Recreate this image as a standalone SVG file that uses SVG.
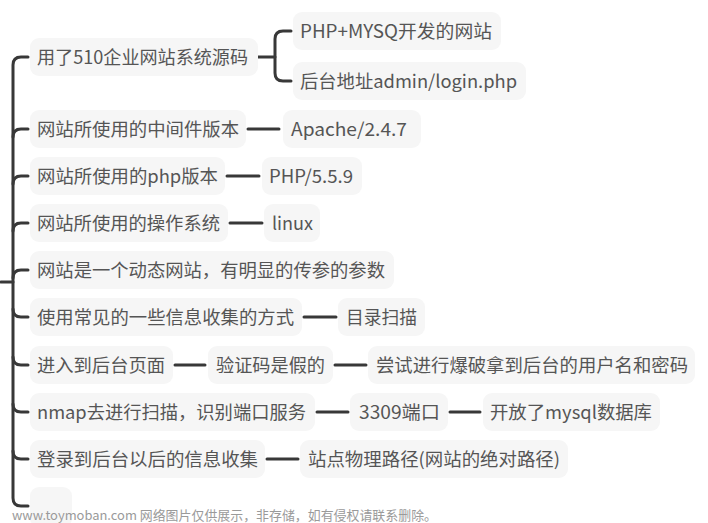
<svg xmlns="http://www.w3.org/2000/svg" width="708" height="523" viewBox="0 0 708 523">
<style>
.box{fill:#f6f6f6;}
.t{font-family:"Noto Sans CJK SC","Noto Sans",sans-serif;font-size:18px;fill:#555555;}
.ln{fill:none;stroke:#383838;stroke-width:3;stroke-linecap:round;stroke-linejoin:round;}
.wm{font-family:"Noto Sans CJK SC","Noto Sans",sans-serif;font-size:13px;fill:#9a9a9a;}
</style>
<rect width="708" height="523" fill="#ffffff"/>
<g id="connectors">
<path class="ln" d="M1,282 L13,282"/>
<path class="ln" d="M28,57 L21,57 Q13,57 13,65 L13,498 Q13,506 21,506 L28,506"/>
<path class="ln" d="M13,137 Q13,129 21,129 L28,129"/>
<path class="ln" d="M13,184 Q13,176 21,176 L28,176"/>
<path class="ln" d="M13,231 Q13,223 21,223 L28,223"/>
<path class="ln" d="M13,278 Q13,270 21,270 L28,270"/>
<path class="ln" d="M13,309 Q13,317 21,317 L28,317"/>
<path class="ln" d="M13,357 Q13,365 21,365 L28,365"/>
<path class="ln" d="M13,404 Q13,412 21,412 L28,412"/>
<path class="ln" d="M13,451 Q13,459 21,459 L28,459"/>
<path class="ln" d="M258,57 L275,57"/>
<path class="ln" d="M291,31 L283,31 Q275,31 275,39 L275,73 Q275,81 283,81 L291,81"/>
<path class="ln" d="M248,129 L279,129"/>
<path class="ln" d="M227,176 L259,176"/>
<path class="ln" d="M230,223 L262,223"/>
<path class="ln" d="M304,317 L336,317"/>
<path class="ln" d="M175,365 L205,365"/>
<path class="ln" d="M335,365 L366,365"/>
<path class="ln" d="M317,412 L348,412"/>
<path class="ln" d="M450,412 L480,412"/>
<path class="ln" d="M267,459 L298,459"/>
</g>
<g id="n1"><rect class="box" x="30" y="38" width="228" height="38" rx="9"/><text class="t" x="37" y="63.5" textLength="211" lengthAdjust="spacingAndGlyphs">用了510企业网站系统源码</text></g>
<g id="n1a"><rect class="box" x="293" y="12" width="208" height="38" rx="9"/><text class="t" x="300" y="37.5" textLength="192" lengthAdjust="spacingAndGlyphs">PHP+MYSQ开发的网站</text></g>
<g id="n1b"><rect class="box" x="293" y="62" width="233" height="38" rx="9"/><text class="t" x="300" y="87.5" textLength="217" lengthAdjust="spacingAndGlyphs">后台地址admin/login.php</text></g>
<g id="n2"><rect class="box" x="30" y="110" width="216" height="38" rx="9"/><text class="t" x="37" y="135.5" textLength="202" lengthAdjust="spacingAndGlyphs">网站所使用的中间件版本</text></g>
<g id="n2a"><rect class="box" x="283" y="110" width="138" height="38" rx="9"/><text class="t" x="291" y="135.5" textLength="116" lengthAdjust="spacingAndGlyphs">Apache/2.4.7</text></g>
<g id="n3"><rect class="box" x="30" y="157" width="195" height="38" rx="9"/><text class="t" x="37" y="182.5" textLength="181" lengthAdjust="spacingAndGlyphs">网站所使用的php版本</text></g>
<g id="n3a"><rect class="box" x="262" y="157" width="100" height="38" rx="9"/><text class="t" x="269" y="182.5" textLength="84" lengthAdjust="spacingAndGlyphs">PHP/5.5.9</text></g>
<g id="n4"><rect class="box" x="30" y="204" width="198" height="38" rx="9"/><text class="t" x="37" y="229.5" textLength="183" lengthAdjust="spacingAndGlyphs">网站所使用的操作系统</text></g>
<g id="n4a"><rect class="box" x="264" y="204" width="56" height="38" rx="9"/><text class="t" x="272" y="229.5" textLength="41" lengthAdjust="spacingAndGlyphs">linux</text></g>
<g id="n5"><rect class="box" x="30" y="251" width="364" height="38" rx="9"/><text class="t" x="37" y="276.5" textLength="348" lengthAdjust="spacingAndGlyphs">网站是一个动态网站，有明显的传参的参数</text></g>
<g id="n6"><rect class="box" x="30" y="298" width="272" height="38" rx="9"/><text class="t" x="37" y="323.5" textLength="257" lengthAdjust="spacingAndGlyphs">使用常见的一些信息收集的方式</text></g>
<g id="n6a"><rect class="box" x="338" y="298" width="87" height="38" rx="9"/><text class="t" x="346" y="323.5" textLength="71" lengthAdjust="spacingAndGlyphs">目录扫描</text></g>
<g id="n7"><rect class="box" x="30" y="346" width="143" height="38" rx="9"/><text class="t" x="37" y="371.5" textLength="128" lengthAdjust="spacingAndGlyphs">进入到后台页面</text></g>
<g id="n7a"><rect class="box" x="208" y="346" width="125" height="38" rx="9"/><text class="t" x="216" y="371.5" textLength="109" lengthAdjust="spacingAndGlyphs">验证码是假的</text></g>
<g id="n7b"><rect class="box" x="368" y="346" width="327" height="38" rx="9"/><text class="t" x="376" y="371.5" textLength="312" lengthAdjust="spacingAndGlyphs">尝试进行爆破拿到后台的用户名和密码</text></g>
<g id="n8"><rect class="box" x="30" y="393" width="285" height="38" rx="9"/><text class="t" x="37" y="418.5" textLength="269" lengthAdjust="spacingAndGlyphs">nmap去进行扫描，识别端口服务</text></g>
<g id="n8a"><rect class="box" x="350" y="393" width="98" height="38" rx="9"/><text class="t" x="359" y="418.5" textLength="81" lengthAdjust="spacingAndGlyphs">3309端口</text></g>
<g id="n8b"><rect class="box" x="483" y="393" width="177" height="38" rx="9"/><text class="t" x="490" y="418.5" textLength="162" lengthAdjust="spacingAndGlyphs">开放了mysql数据库</text></g>
<g id="n9"><rect class="box" x="30" y="440" width="235" height="38" rx="9"/><text class="t" x="37" y="465.5" textLength="221" lengthAdjust="spacingAndGlyphs">登录到后台以后的信息收集</text></g>
<g id="n9a"><rect class="box" x="300" y="440" width="268" height="38" rx="9"/><text class="t" x="308" y="465.5" textLength="252" lengthAdjust="spacingAndGlyphs">站点物理路径(网站的绝对路径)</text></g>
<g id="n10"><rect class="box" x="30" y="487" width="42" height="40" rx="9"/></g>
<text class="wm" x="12" y="520" textLength="425" lengthAdjust="spacingAndGlyphs">www.toymoban.com 网络图片仅供展示，非存储，如有侵权请联系删除。</text>
</svg>
